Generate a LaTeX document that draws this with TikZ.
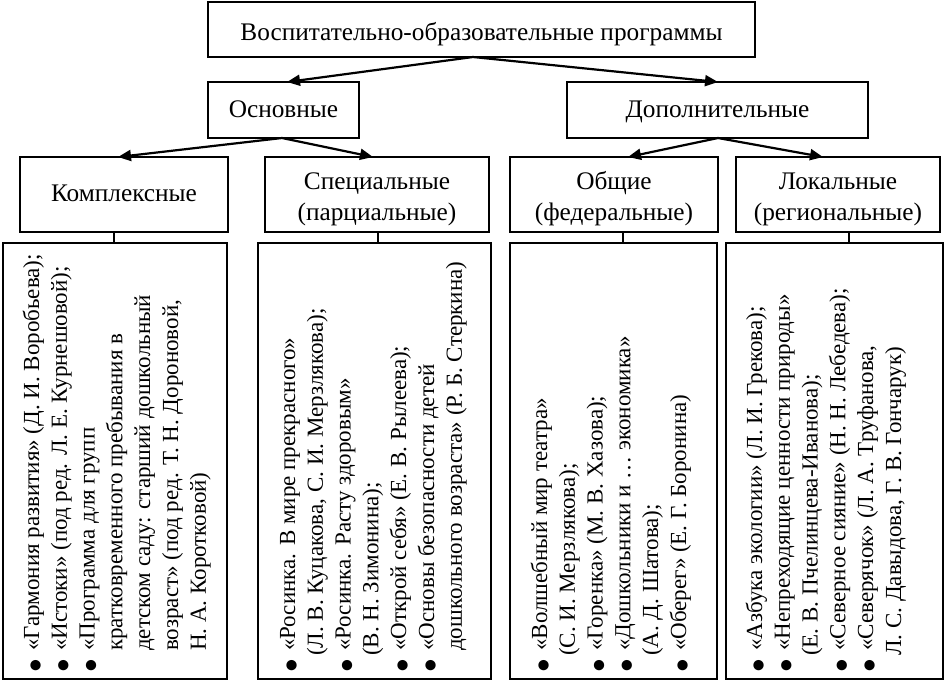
\documentclass[tikz,border=0pt]{standalone}
\usepackage{fontspec}
\setmainfont{Liberation Serif}
\newfontfamily\dejavu{DejaVu Sans}
\usetikzlibrary{arrows.meta}
\newcommand{\blt}{{\dejavu\fontsize{13.5}{13.5}\selectfont ●}}
% bullet line: text starts 28pt above the box bottom, bullet centred 13pt above it
\newcommand{\bitem}[1]{\hspace*{28pt}\llap{\makebox[30pt]{\blt}}#1}
\newcommand{\cont}[2][28pt]{\hspace*{#1}#2}
\newcommand{\bxt}[2][0pt]{\raisebox{#1}[\height][\depth]{\begin{tabular}{@{}c@{}}#2\end{tabular}}}
\begin{document}
\begin{tikzpicture}[x=1pt,y=-1pt,
  box/.style={draw, line width=1.2pt, inner sep=0pt, outer sep=0pt,
    font=\fontsize{25.3}{31}\selectfont},
  listbox/.style={draw, line width=1.2pt, inner sep=0pt, outer sep=0pt,
    minimum height=436pt},
  arr/.style={line width=2.2pt, -{Triangle[length=13pt,width=11pt]}},
  ln/.style={line width=1.2pt},
  listtext/.style={rotate=90, anchor=base west, inner sep=0pt,
    font=\fontsize{23}{27.8}\selectfont}]
\useasboundingbox (0,0) rectangle (945,681);

% level 1
\node[box, minimum width=547pt, minimum height=55pt] (top) at (481.5,29.5)
  {\bxt[-5pt]{Воспитательно-образовательные программы}};
% level 2
\node[box, minimum width=151pt, minimum height=56pt] (osn) at (283.5,110) {\bxt[-1pt]{Основные}};
\node[box, minimum width=301pt, minimum height=56pt] (dop) at (717.5,110) {\bxt[-1pt]{Дополнительные}};
% level 3
\node[box, minimum width=208pt, minimum height=75pt] (kom) at (124,194.5) {\bxt[-1pt]{Комплексные}};
\node[box, minimum width=224pt, minimum height=75pt] (spec) at (377,194.5)
  {\bxt[-4pt]{Специальные\\(парциальные)}};
\node[box, minimum width=208pt, minimum height=75pt] (obs) at (614,194.5)
  {\bxt[-4pt]{Общие\\(федеральные)}};
\node[box, minimum width=204pt, minimum height=75pt] (lok) at (838,194.5)
  {\bxt[-4pt]{Локальные\\(региональные)}};
% level 4
\node[listbox, minimum width=224pt] (l1) at (115,461) {};
\node[listbox, minimum width=233pt] (l2) at (374.5,461) {};
\node[listbox, minimum width=207pt] (l3) at (613.5,461) {};
\node[listbox, minimum width=217pt] (l4) at (834.5,461) {};

% arrows
\draw[arr] ([xshift=-8.5pt]top.south) -- ([xshift=3.5pt]osn.north);
\draw[arr] ([xshift=-8.5pt]top.south) -- ([xshift=0.5pt]dop.north);
\draw[arr] ([xshift=-1.5pt]osn.south) -- ([xshift=-6pt]kom.north);
\draw[arr] ([xshift=-1.5pt]osn.south) -- ([xshift=-4pt]spec.north);
\draw[arr] ([xshift=0.5pt]dop.south) -- ([xshift=14pt]obs.north);
\draw[arr] ([xshift=0.5pt]dop.south) -- ([xshift=-15pt]lok.north);
% connectors to lists
\draw[ln] ([xshift=-10pt]kom.south) -- ([xshift=-10pt]kom.south |- l1.north);
\draw[ln] ([xshift=1pt]spec.south) -- ([xshift=1pt]spec.south |- l2.north);
\draw[ln] ([xshift=9pt]obs.south) -- ([xshift=9pt]obs.south |- l3.north);
\draw[ln] ([xshift=11pt]lok.south) -- ([xshift=11pt]lok.south |- l4.north);

% list texts
\node[listtext] (t1) at ([xshift=36pt]l1.south west) {\begin{tabular}[t]{@{}l@{}}
\bitem{«Гармония развития» (Д. И. Воробьева);}\\
\bitem{«Истоки» (под ред. Л. Е. Курнешовой);}\\
\bitem{«Программа для групп}\\
\cont{кратковременного пребывания в}\\
\cont{детском саду: старший дошкольный}\\
\cont{возраст» (под ред. Т. Н. Дороновой,}\\
\cont{Н. А. Коротковой)}
\end{tabular}};
\node[listtext] (t2) at ([xshift=37pt]l2.south west) {\begin{tabular}[t]{@{}l@{}}
\bitem{«Росинка. В мире прекрасного»}\\
\cont[23pt]{(Л. В. Куцакова, С. И. Мерзлякова);}\\
\bitem{«Росинка. Расту здоровым»}\\
\cont[23pt]{(В. Н. Зимонина);}\\
\bitem{«Открой себя» (Е. В. Рылеева);}\\
\bitem{«Основы безопасности детей}\\
\cont{дошкольного возраста» (Р. Б. Стеркина)}
\end{tabular}};
\node[listtext] (t3) at ([xshift=37pt]l3.south west) {\begin{tabular}[t]{@{}l@{}}
\bitem{«Волшебный мир театра»}\\
\cont[23pt]{(С. И. Мерзлякова);}\\
\bitem{«Горенка» (М. В. Хазова);}\\
\bitem{«Дошкольники и … экономика»}\\
\cont[23pt]{(А. Д. Шатова);}\\
\bitem{«Оберег» (Е. Г. Боронина)}
\end{tabular}};
\node[listtext] (t4) at ([xshift=36pt]l4.south west) {\begin{tabular}[t]{@{}l@{}}
\bitem{«Азбука экологии» (Л. И. Грекова);}\\
\bitem{«Непреходящие ценности природы»}\\
\cont[23pt]{(Е. В. Пчелинцева-Иванова);}\\
\bitem{«Северное сияние» (Н. Н. Лебедева);}\\
\bitem{«Северячок» (Л. А. Труфанова,}\\
\cont[23pt]{Л. С. Давыдова, Г. В. Гончарук)}
\end{tabular}};
\end{tikzpicture}
\end{document}
